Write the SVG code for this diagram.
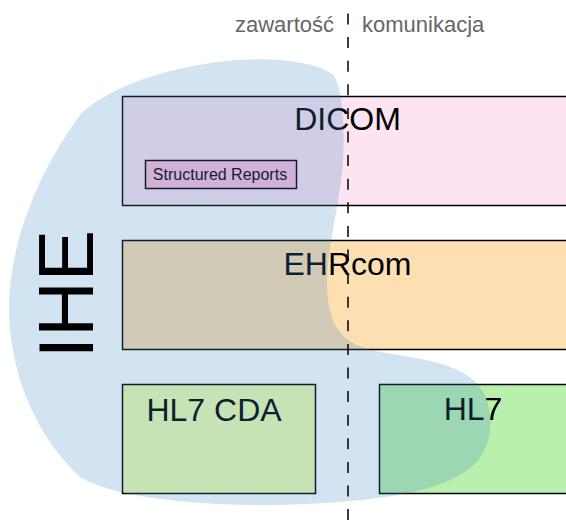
<svg xmlns="http://www.w3.org/2000/svg" width="566" height="521" viewBox="0 0 566 521">
<style>
.box{stroke:#000;stroke-width:1.5}
.lbl{font-family:"Liberation Sans",Arial,sans-serif;fill:#000;text-anchor:middle}
.big{font-size:32px}
.hdr{font-family:"Liberation Sans",Arial,sans-serif;font-size:22px;fill:#666}
</style>
<rect width="566" height="521" fill="#fff"/>
<g id="dicom">
<rect class="box" x="122.5" y="96.5" width="460" height="109" fill="#fde4f0"/>
<text class="lbl big" x="347.5" y="129.5">DICOM</text>
</g>
<g id="structured-reports">
<rect class="box" x="145.5" y="160.5" width="151" height="28" fill="#ffbede"/>
<text class="lbl" x="220" y="179.5" font-size="16">Structured Reports</text>
</g>
<g id="ehrcom">
<rect class="box" x="122.5" y="240.5" width="460" height="109" fill="#fedfb2"/>
<text class="lbl big" x="347.5" y="274.5">EHRcom</text>
</g>
<g id="hl7-cda">
<rect class="box" x="122.5" y="384.5" width="193" height="109" fill="#f0ffb2"/>
<text class="lbl big" x="214" y="421">HL7 CDA</text>
</g>
<g id="hl7">
<rect class="box" x="379.5" y="384.5" width="200" height="109" fill="#b9f0ad"/>
<text class="lbl big" x="473" y="420">HL7</text>
</g>
<g id="ihe">
<path d="M333,75 C342,85 345,120 343,160 C341,200 328,240 327,280 C327,325 340,345 380,352 C430,360 470,365 485,395 C495,420 492,450 470,468 C440,492 380,502 280,505 C180,506 110,495 80,477 C40,440 10,380 9,310 C9,240 40,170 80,115 C120,75 220,55 280,60 C310,63 325,68 333,75 Z" fill="#3d85c6" fill-opacity="0.23"/>
<text transform="translate(93,294) rotate(-90)" font-family="'Liberation Sans',Arial,sans-serif" font-size="77" text-anchor="middle" fill="#000">IHE</text>
</g>
<g id="divider">
<line x1="348" y1="13.5" x2="348" y2="521" stroke="#000" stroke-width="1.5" stroke-dasharray="11 12.6"/>
<text class="hdr" x="334" y="32" text-anchor="end">zawartość</text>
<text class="hdr" x="362" y="32">komunikacja</text>
</g>
<g id="connectors"/>
</svg>
